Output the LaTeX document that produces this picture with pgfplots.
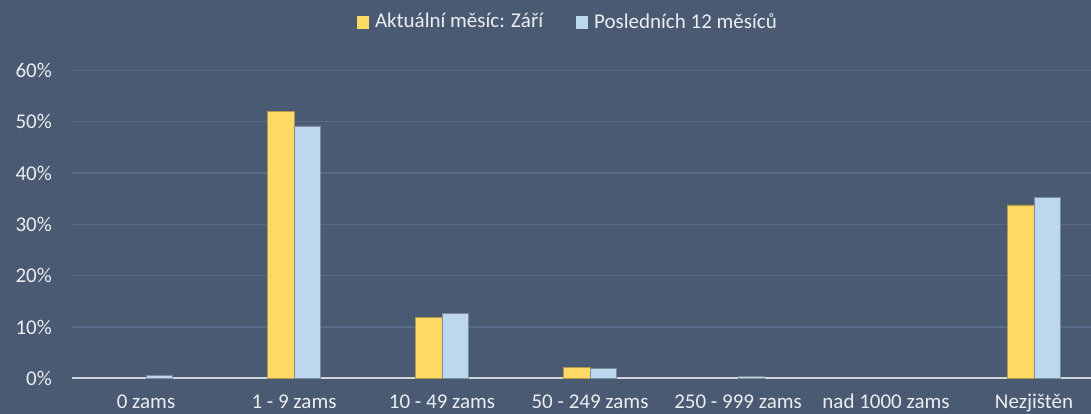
\documentclass[border=0pt]{standalone}
\usepackage{fontspec}
\setmainfont{Carlito}
\usepackage{pgfplots}
\pgfplotsset{compat=1.18}
\definecolor{bg}{RGB}{74,90,114}
\definecolor{yel}{RGB}{255,217,102}
\definecolor{lblue}{RGB}{189,215,238}
\definecolor{gridc}{RGB}{88,108,138}
\definecolor{axl}{RGB}{210,214,220}
\definecolor{txt}{RGB}{235,237,240}
\begin{document}
\fontsize{21bp}{25bp}\selectfont
\begin{tikzpicture}
\fill[bg] (0,0) rectangle (1091bp,414bp);
\useasboundingbox (0,0) rectangle (1091bp,414bp);
\begin{axis}[
  at={(72bp,35.7bp)}, anchor=south west,
  width=1019bp, height=307.8bp, scale only axis,
  xmin=-0.5, xmax=6.385, ymin=0, ymax=60,
  ybar, bar width=0.179,
  separate axis lines,
  axis x line*=bottom, axis y line*=left,
  y axis line style={draw=none},
  x axis line style={draw=axl, line width=1.8bp, -},
  tick style={draw=none},
  ymajorgrids, grid style={draw=gridc, line width=1.2bp},
  ytick={0,10,...,60},
  yticklabel={\pgfmathprintnumber{\tick}\%},
  xtick={0,...,6},
  xticklabels={0 zams,1 - 9 zams,10 - 49 zams,50 - 249 zams,250 - 999 zams,nad 1000 zams,Nezjištěn},
  ticklabel style={text=txt, font=\fontsize{21bp}{25bp}\selectfont},
  xticklabel style={anchor=base, yshift=-26bp},
  yticklabel style={xshift=-13bp},
  /pgf/number format/assume math mode=true,
  legend style={at={(0.4867,1.157)}, anchor=center, draw=none, fill=none,
    text=txt, font=\fontsize{21bp}{25bp}\selectfont,
    legend columns=2,
    /tikz/every even column/.append style={column sep=31bp}},
  legend image code/.code={\path[#1,draw=none] (0bp,-6.5bp) rectangle (12bp,6.5bp); \path[draw=none,fill=none] (0bp,0bp) -- (16bp,0bp);},
  clip=false,
]
\addplot[fill=yel, draw=yel!70!black, line width=0.6bp, bar shift=-0.0895] coordinates {
  (1,52.1) (2,11.9) (3,2.1) (6,33.8)};
\addplot[fill=lblue, draw=lblue!65!black, line width=0.6bp, bar shift=0.0895] coordinates {
  (0,0.6) (1,49.2) (2,12.7) (3,1.9) (4,0.4) (6,35.3)};
\legend{Aktuální měsíc: Září, Posledních 12 měsíců}
\end{axis}
\end{tikzpicture}
\end{document}
